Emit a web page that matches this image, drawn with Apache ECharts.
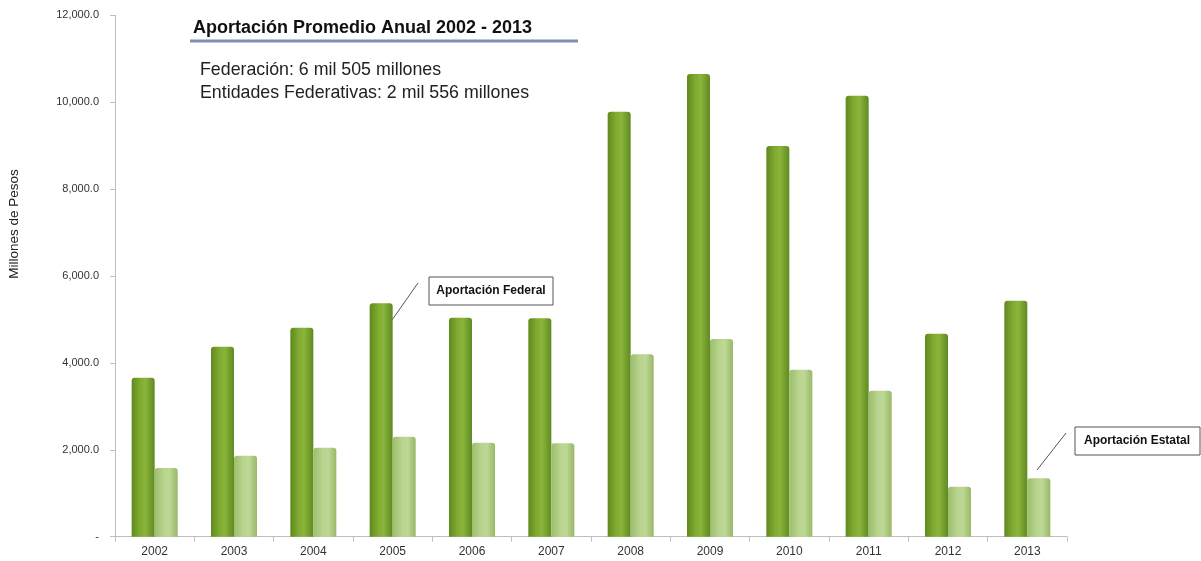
<!DOCTYPE html>
<html><head><meta charset="utf-8">
<script src="https://cdn.jsdelivr.net/npm/echarts@6/dist/echarts.min.js"></script>
<style>html,body{margin:0;padding:0;background:#fff}#c{width:1201px;height:561px}</style>
</head><body><div id="c"></div>
<script>
const years = ['2002','2003','2004','2005','2006','2007','2008','2009','2010','2011','2012','2013'];
const federal = [3660, 4370, 4810, 5370, 5040, 5030, 9780, 10650, 8990, 10150, 4670, 5430];
const estatal = [1580, 1865, 2050, 2300, 2160, 2150, 4200, 4550, 3840, 3360, 1150, 1345];
const yTicks = [0, 2000, 4000, 6000, 8000, 10000, 12000];

const chart = echarts.init(document.getElementById('c'));
const fedGrad = new echarts.graphic.LinearGradient(0,0,1,0,[
  {offset:0,color:'#5e8a1f'},{offset:0.35,color:'#7fa92f'},{offset:0.6,color:'#8ab53a'},{offset:1,color:'#5f8a22'}]);
const estGrad = new echarts.graphic.LinearGradient(0,0,1,0,[
  {offset:0,color:'#9dbd6c'},{offset:0.4,color:'#b8d48e'},{offset:0.65,color:'#bdd895'},{offset:1,color:'#98b866'}]);

chart.setOption({
  animation:false,
  grid:{left:115,right:134,top:15.3,bottom:24.3},
  xAxis:{type:'category',data:years,
    axisLine:{lineStyle:{color:'#bfbfbf'}},
    axisTick:{show:true,length:5,lineStyle:{color:'#bfbfbf'}},
    axisLabel:{color:'#333',fontSize:12,fontFamily:'Liberation Sans',margin:9}},
  yAxis:{type:'value',min:0,max:12000,interval:2000,
    axisLine:{show:true,lineStyle:{color:'#bfbfbf'}},
    axisTick:{show:true,length:5,lineStyle:{color:'#bfbfbf'}},
    splitLine:{show:false},
    axisLabel:{color:'#333',fontSize:11,fontFamily:'Liberation Sans',margin:16,
      formatter:v=> v===0 ? '-' : v.toLocaleString('en-US',{minimumFractionDigits:1,maximumFractionDigits:1})}},
  series:[
    {name:'Aportación Federal',type:'bar',data:federal,barGap:'0%',barCategoryGap:'42%',
      itemStyle:{color:fedGrad,borderRadius:[3,3,0,0]}},
    {name:'Aportación Estatal',type:'bar',data:estatal,
      itemStyle:{color:estGrad,borderRadius:[3,3,0,0]}}
  ],
  graphic:[
    {type:'text',x:14,y:224,rotation:Math.PI/2,style:{text:'Millones de Pesos',font:'13.5px "Liberation Sans"',fill:'#222',align:'center',verticalAlign:'middle'}},
    {type:'text',x:193,y:28,style:{text:'Aportación Promedio Anual 2002 - 2013',font:'bold 18px "Liberation Sans"',fill:'#111',verticalAlign:'middle'}},
    {type:'line',shape:{x1:190,y1:41,x2:578,y2:41},style:{stroke:'#7f8fb0',lineWidth:3}},
    {type:'text',x:200,y:70,style:{text:'Federación: 6 mil 505 millones',font:'17.8px "Liberation Sans"',fill:'#222',verticalAlign:'middle'}},
    {type:'text',x:200,y:93,style:{text:'Entidades Federativas: 2 mil 556 millones',font:'17.8px "Liberation Sans"',fill:'#222',verticalAlign:'middle'}},
    {type:'rect',shape:{x:429,y:277,width:124,height:28},style:{fill:'#fff',stroke:'#555',lineWidth:1}},
    {type:'text',x:491,y:291,style:{text:'Aportación Federal',font:'bold 12px "Liberation Sans"',fill:'#111',align:'center',verticalAlign:'middle'}},
    {type:'line',shape:{x1:418,y1:283,x2:392,y2:320},style:{stroke:'#555',lineWidth:1}},
    {type:'rect',shape:{x:1075,y:427,width:125,height:28},style:{fill:'#fff',stroke:'#555',lineWidth:1}},
    {type:'text',x:1137,y:441,style:{text:'Aportación Estatal',font:'bold 12px "Liberation Sans"',fill:'#111',align:'center',verticalAlign:'middle'}},
    {type:'line',shape:{x1:1066,y1:433,x2:1037,y2:470},style:{stroke:'#555',lineWidth:1}}
  ]
});
</script></body></html>
